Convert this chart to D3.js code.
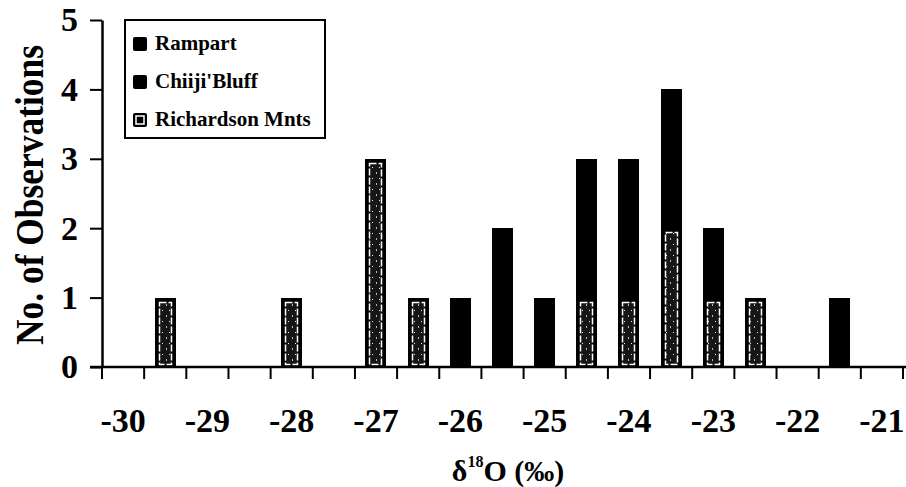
<!DOCTYPE html>
<html>
<head>
<meta charset="utf-8">
<script src="https://cdn.jsdelivr.net/npm/d3@7"></script>
<style>
  body { margin: 0; background: #fff; }
  text { font-family: "Liberation Serif", "DejaVu Serif", serif; font-weight: bold; fill: #000; }
</style>
</head>
<body>
<svg id="chart" width="906" height="487"></svg>
<script>
// 0.5 per mil bins
const bins = [-30, -29.5, -29, -28.5, -28, -27.5, -27, -26.5, -26, -25.5, -25, -24.5, -24, -23.5, -23, -22.5, -22, -21.5, -21];
const rampart    = [0, 0, 0, 0, 0, 0, 0, 0, 1, 1, 0, 1, 1, 1, 0, 0, 0, 1, 0];
const chiiji     = [0, 0, 0, 0, 0, 0, 0, 0, 0, 1, 1, 1, 1, 1, 1, 0, 0, 0, 0];
const richardson = [0, 1, 0, 0, 1, 0, 3, 1, 0, 0, 0, 1, 1, 2, 1, 1, 0, 0, 0];
const seriesNames = ["Rampart", "Chiiji'Bluff", "Richardson Mnts"];
const yTicks = [0, 1, 2, 3, 4, 5];
const xLabels = [-30, -29, -28, -27, -26, -25, -24, -23, -22, -21];

const svg = d3.select("#chart");

const x = d3.scaleBand()
  .domain(bins)
  .range([102, 903])
  .paddingInner(0.5)
  .paddingOuter(0.25);

const y = d3.scaleLinear().domain([0, 5]).range([367, 20]);

// pattern for the Richardson bars: near black with a few white specks
const defs = svg.append("defs");
const pat = defs.append("pattern")
  .attr("id", "speckle")
  .attr("patternUnits", "userSpaceOnUse")
  .attr("width", 7).attr("height", 11);
pat.append("rect").attr("width", 7).attr("height", 11).attr("fill", "#161616");
pat.append("rect").attr("x", 1).attr("y", 2).attr("width", 1).attr("height", 1).attr("fill", "#eee");
pat.append("rect").attr("x", 5).attr("y", 7).attr("width", 1).attr("height", 2).attr("fill", "#bbb");

// stacked: Richardson at bottom, then Chiiji, then Rampart
const table = bins.map((b, i) => ({ bin: b, richardson: richardson[i], chiiji: chiiji[i], rampart: rampart[i] }));
const stack = d3.stack().keys(["richardson", "chiiji", "rampart"])(table);

const bars = svg.append("g").attr("shape-rendering", "crispEdges");
stack.forEach(layer => {
  bars.append("g")
    .selectAll("rect")
    .data(layer.filter(d => d[1] > d[0]))
    .join("rect")
    .attr("x", d => Math.round(x(d.data.bin)))
    .attr("y", d => Math.round(y(d[1])))
    .attr("width", Math.round(x.bandwidth()))
    .attr("height", d => Math.round(y(d[0])) - Math.round(y(d[1])))
    .attr("fill", "#000");
});

// inner marking of the Richardson segments
const rich = stack[0].filter(d => d[1] > d[0]);
svg.append("g")
  .selectAll("rect")
  .data(rich)
  .join("rect")
  .attr("x", d => Math.round(x(d.data.bin)) + 4.5)
  .attr("y", d => Math.round(y(d[1])) + 4.5)
  .attr("width", Math.round(x.bandwidth()) - 9)
  .attr("height", d => Math.round(y(d[0])) - Math.round(y(d[1])) - 7)
  .attr("fill", "url(#speckle)")
  .attr("stroke", "#fff")
  .attr("stroke-width", 1.5)
  .attr("stroke-dasharray", "7,2");

// x axis
const step = x.step();
const edges = bins.map(b => x(b) - step * 0.25).concat([x(bins[bins.length - 1]) + x.bandwidth() + step * 0.25]);
const xAxis = svg.append("g").attr("stroke", "#000");
xAxis.append("line")
  .attr("x1", 90).attr("x2", 906)
  .attr("y1", y(0)).attr("y2", y(0))
  .attr("stroke-width", 2.5);
xAxis.selectAll("line.tick")
  .data(edges)
  .join("line")
  .attr("class", "tick")
  .attr("x1", d => d).attr("x2", d => d)
  .attr("y1", y(0)).attr("y2", y(0) + 12)
  .attr("stroke-width", 2);

svg.append("g")
  .selectAll("text")
  .data(xLabels)
  .join("text")
  .attr("x", d => x(d) + x.bandwidth() / 2)
  .attr("y", 432)
  .attr("text-anchor", "middle")
  .attr("font-size", 34)
  .text(d => d);

// y axis
const yAxis = svg.append("g")
  .attr("transform", "translate(102,0)")
  .call(d3.axisLeft(y).tickValues(yTicks).tickFormat(d3.format("d")).tickSize(12).tickSizeOuter(0).tickPadding(12));
yAxis.select(".domain").attr("stroke-width", 2.5);
yAxis.selectAll(".tick line").attr("stroke-width", 2);
yAxis.selectAll(".tick text")
  .attr("font-size", 34)
  .attr("font-family", "Liberation Serif")
  .attr("font-weight", "bold");

// axis titles
svg.append("text")
  .attr("transform", "translate(43,195) rotate(-90)")
  .attr("text-anchor", "middle")
  .attr("font-size", 40)
  .attr("textLength", 300)
  .attr("lengthAdjust", "spacingAndGlyphs")
  .text("No. of Observations");

const xt = svg.append("text")
  .attr("x", 508)
  .attr("y", 481)
  .attr("text-anchor", "middle")
  .attr("font-size", 30);
xt.append("tspan").text("δ");
xt.append("tspan").attr("font-size", 16).attr("dy", -14).text("18");
xt.append("tspan").attr("dy", 14).text("O (‰)");

// legend
const legend = svg.append("g");
legend.append("rect")
  .attr("x", 125).attr("y", 20)
  .attr("width", 200).attr("height", 118)
  .attr("fill", "#fff")
  .attr("stroke", "#000")
  .attr("stroke-width", 2);

const items = legend.selectAll("g")
  .data(seriesNames)
  .join("g")
  .attr("transform", (d, i) => `translate(133,${37 + i * 38})`);
items.append("rect")
  .attr("width", 14).attr("height", 14)
  .attr("rx", 2)
  .attr("fill", "#000");
items.filter((d, i) => i === 2)
  .append("rect")
  .attr("x", 3).attr("y", 3)
  .attr("width", 8).attr("height", 8)
  .attr("fill", "none")
  .attr("stroke", "#fff")
  .attr("stroke-width", 1.5);
items.append("text")
  .attr("x", 22)
  .attr("y", 13)
  .attr("font-size", 21)
  .text(d => d);
</script>
</body>
</html>
